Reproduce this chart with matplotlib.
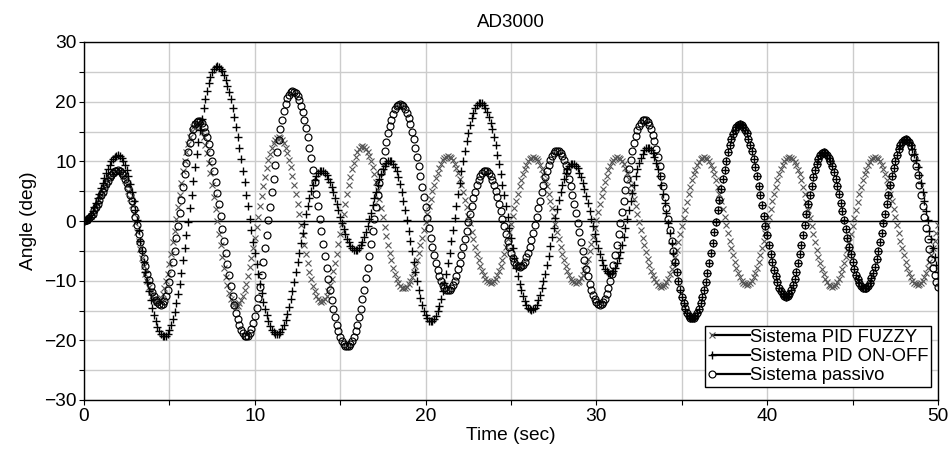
import numpy as np
import matplotlib
matplotlib.use("Agg")
import matplotlib.pyplot as plt
from matplotlib.lines import Line2D
from matplotlib.ticker import MultipleLocator
from matplotlib.legend_handler import HandlerLine2DCompound

plt.rcParams['font.family'] = ['Liberation Sans', 'DejaVu Sans']

title = "AD3000"
x_label = "Time (sec)"
y_label = "Angle (deg)"
series_labels = ["Sistema PID FUZZY", "Sistema PID ON-OFF", "Sistema passivo"]
time_step = 0.1  # seconds between samples

fuzzy = [
    0.0,
    0.1, 0.2, 0.5, 0.8, 1.2, 1.8, 2.3, 2.9, 3.6, 4.3, 4.9, 5.6, 6.2, 6.7, 7.3, 7.7, 8.0, 8.3, 8.4, 8.5,
    8.4, 8.1, 7.6, 6.9, 6.0, 5.0, 3.8, 2.6, 1.2, -0.3, -1.8, -3.3, -4.7, -6.2, -7.6, -8.8, -10.0, -11.0, -11.9, -12.6, -13.1, -13.4, -13.5,
    -13.4, -12.9, -12.3, -11.3, -10.1, -8.8, -7.2, -5.5, -3.6, -1.6, 0.4, 2.4, 4.4, 6.4, 8.3, 10.0, 11.6, 12.9, 14.1, 15.1, 15.7, 16.2, 16.3,
    16.2, 15.7, 15.0, 14.1, 12.8, 11.4, 9.8, 8.0, 6.1, 4.1, 2.0, 0.0, -2.1, -4.1, -6.0, -7.8, -9.4, -10.8, -12.1, -13.0, -13.7, -14.1, -14.3,
    -14.2, -13.8, -13.3, -12.5, -11.6, -10.5, -9.2, -7.7, -6.2, -4.5, -2.8, -1.0, 0.7, 2.5, 4.2, 5.9, 7.4, 8.9, 10.2, 11.3, 12.3, 13.0, 13.6, 13.9, 14.0,
    13.9, 13.6, 13.0, 12.3, 11.4, 10.3, 9.0, 7.6, 6.1, 4.5, 2.8, 1.1, -0.6, -2.3, -4.0, -5.6, -7.1, -8.5, -9.8, -10.9, -11.8, -12.5, -13.1, -13.4, -13.5,
    -13.4, -13.1, -12.5, -11.8, -10.8, -9.7, -8.4, -7.0, -5.5, -3.9, -2.2, -0.5, 1.2, 2.9, 4.5, 6.0, 7.4, 8.7, 9.8, 10.8, 11.5, 12.1, 12.4, 12.5,
    12.4, 12.1, 11.6, 10.9, 10.1, 9.0, 7.8, 6.6, 5.2, 3.7, 2.2, 0.6, -1.0, -2.5, -4.0, -5.4, -6.6, -7.8, -8.9, -9.7, -10.4, -10.9, -11.2, -11.3,
    -11.2, -11.0, -10.6, -10.0, -9.4, -8.5, -7.6, -6.5, -5.4, -4.1, -2.9, -1.5, -0.2, 1.1, 2.5, 3.7, 5.0, 6.1, 7.2, 8.1, 8.9, 9.6, 10.2, 10.6, 10.8, 10.9,
    10.8, 10.6, 10.2, 9.6, 8.9, 8.0, 7.0, 6.0, 4.8, 3.6, 2.3, 0.9, -0.4, -1.8, -3.1, -4.3, -5.5, -6.5, -7.5, -8.4, -9.1, -9.7, -10.1, -10.3, -10.4,
    -10.3, -10.1, -9.7, -9.1, -8.4, -7.6, -6.6, -5.5, -4.3, -3.1, -1.8, -0.5, 0.8, 2.1, 3.4, 4.6, 5.8, 6.9, 7.8, 8.7, 9.4, 10.0, 10.4, 10.6, 10.7,
    10.6, 10.4, 10.0, 9.4, 8.7, 7.9, 6.9, 5.8, 4.6, 3.4, 2.1, 0.8, -0.5, -1.8, -3.1, -4.3, -5.5, -6.6, -7.5, -8.4, -9.1, -9.7, -10.1, -10.3, -10.4,
    -10.3, -10.0, -9.6, -9.0, -8.2, -7.3, -6.3, -5.1, -3.9, -2.6, -1.2, 0.2, 1.5, 2.9, 4.2, 5.4, 6.6, 7.6, 8.5, 9.3, 9.9, 10.3, 10.6, 10.7,
    10.6, 10.4, 10.0, 9.5, 8.8, 8.0, 7.1, 6.0, 4.9, 3.7, 2.5, 1.2, -0.2, -1.5, -2.8, -4.0, -5.2, -6.3, -7.4, -8.3, -9.1, -9.8, -10.3, -10.7, -10.9, -11.0,
    -10.9, -10.7, -10.2, -9.7, -8.9, -8.1, -7.1, -6.0, -4.8, -3.5, -2.2, -0.8, 0.5, 1.9, 3.2, 4.5, 5.7, 6.8, 7.8, 8.6, 9.4, 9.9, 10.4, 10.6, 10.7,
    10.6, 10.4, 10.0, 9.4, 8.7, 7.8, 6.8, 5.7, 4.6, 3.3, 2.0, 0.7, -0.7, -2.0, -3.3, -4.6, -5.7, -6.8, -7.8, -8.7, -9.4, -10.0, -10.4, -10.6, -10.7,
    -10.6, -10.4, -10.0, -9.4, -8.7, -7.8, -6.8, -5.7, -4.6, -3.3, -2.0, -0.7, 0.7, 2.0, 3.3, 4.6, 5.7, 6.8, 7.8, 8.7, 9.4, 10.0, 10.4, 10.6, 10.7,
    10.6, 10.4, 9.9, 9.4, 8.6, 7.8, 6.8, 5.7, 4.5, 3.2, 1.9, 0.5, -0.8, -2.2, -3.5, -4.8, -6.0, -7.1, -8.1, -8.9, -9.7, -10.2, -10.7, -10.9, -11.0,
    -10.9, -10.7, -10.2, -9.7, -8.9, -8.1, -7.1, -6.0, -4.8, -3.5, -2.2, -0.8, 0.5, 1.9, 3.2, 4.5, 5.7, 6.8, 7.8, 8.6, 9.4, 9.9, 10.4, 10.6, 10.7,
    10.6, 10.4, 10.0, 9.4, 8.7, 7.8, 6.8, 5.7, 4.6, 3.3, 2.0, 0.7, -0.7, -2.0, -3.3, -4.6, -5.7, -6.8, -7.8, -8.7, -9.4, -10.0, -10.4, -10.6, -10.7,
    -10.6, -10.4, -10.0, -9.4, -8.7, -7.8, -6.8, -5.7, -4.6, -3.3, -2.0, -0.7,
]

on_off = [
    0.0,
    0.1, 0.3, 0.6, 1.0, 1.6, 2.3, 3.0, 3.8, 4.6, 5.5, 6.4, 7.2, 8.0, 8.7, 9.4, 10.0, 10.4, 10.7, 10.9, 11.0,
    10.9, 10.6, 10.1, 9.4, 8.5, 7.5, 6.2, 4.9, 3.4, 1.9, 0.2, -1.5, -3.3, -5.0, -6.8, -8.5, -10.2, -11.7, -13.2, -14.5, -15.8, -16.8, -17.7, -18.4, -18.9, -19.2, -19.3,
    -19.2, -18.9, -18.3, -17.5, -16.5, -15.2, -13.8, -12.3, -10.5, -8.7, -6.6, -4.6, -2.4, -0.1, 2.2, 4.4, 6.7, 9.0, 11.2, 13.2, 15.2, 17.1, 18.9, 20.4, 21.8, 23.1, 24.1, 24.9, 25.5, 25.8, 25.9,
    25.8, 25.5, 25.1, 24.5, 23.7, 22.7, 21.6, 20.4, 19.0, 17.5, 15.8, 14.1, 12.3, 10.4, 8.4, 6.5, 4.4, 2.5, 0.4, -1.5, -3.5, -5.4, -7.2, -8.9, -10.6, -12.1, -13.5, -14.7, -15.8, -16.8, -17.6, -18.2, -18.6, -18.9, -19.0,
    -18.9, -18.6, -18.1, -17.4, -16.6, -15.6, -14.4, -13.1, -11.7, -10.2, -8.6, -6.9, -5.3, -3.7, -2.0, -0.5, 1.1, 2.5, 3.8, 5.0, 6.0, 6.8, 7.5, 8.0, 8.3, 8.4,
    8.3, 8.1, 7.7, 7.1, 6.5, 5.7, 4.8, 3.8, 2.8, 1.8, 0.7, -0.3, -1.3, -2.2, -3.0, -3.6, -4.2, -4.6, -4.8, -4.9,
    -4.8, -4.5, -4.1, -3.5, -2.7, -1.8, -0.8, 0.3, 1.4, 2.6, 3.8, 4.9, 6.0, 7.0, 7.9, 8.7, 9.3, 9.7, 10.0, 10.1,
    10.0, 9.6, 9.1, 8.3, 7.3, 6.2, 4.8, 3.4, 1.8, 0.1, -1.6, -3.4, -5.1, -6.8, -8.5, -10.1, -11.5, -12.9, -14.0, -15.0, -15.8, -16.3, -16.7, -16.8,
    -16.7, -16.4, -15.9, -15.1, -14.2, -13.1, -11.8, -10.4, -8.8, -7.1, -5.3, -3.4, -1.5, 0.5, 2.5, 4.5, 6.4, 8.3, 10.1, 11.8, 13.4, 14.8, 16.1, 17.2, 18.1, 18.9, 19.4, 19.7, 19.8,
    19.7, 19.4, 19.0, 18.3, 17.5, 16.5, 15.4, 14.1, 12.7, 11.1, 9.5, 7.8, 6.1, 4.3, 2.5, 0.7, -1.2, -2.9, -4.6, -6.2, -7.8, -9.2, -10.5, -11.6, -12.6, -13.4, -14.1, -14.5, -14.8, -14.9,
    -14.8, -14.5, -14.0, -13.3, -12.4, -11.3, -10.1, -8.8, -7.3, -5.8, -4.2, -2.7, -1.1, 0.5, 2.0, 3.5, 4.8, 6.0, 7.1, 8.0, 8.7, 9.2, 9.5, 9.6,
    9.5, 9.2, 8.8, 8.1, 7.4, 6.4, 5.4, 4.2, 3.0, 1.7, 0.4, -0.9, -2.2, -3.4, -4.6, -5.6, -6.6, -7.3, -8.0, -8.4, -8.7, -8.8,
    -8.7, -8.4, -7.8, -7.1, -6.2, -5.2, -4.0, -2.6, -1.2, 0.3, 1.8, 3.3, 4.7, 6.1, 7.5, 8.7, 9.7, 10.6, 11.3, 11.9, 12.2, 12.3,
    12.2, 11.9, 11.4, 10.7, 9.8, 8.7, 7.5, 6.1, 4.6, 3.1, 1.4, -0.3, -2.0, -3.7, -5.4, -7.1, -8.6, -10.1, -11.5, -12.7, -13.8, -14.7, -15.4, -15.9, -16.2, -16.3,
    -16.2, -15.9, -15.4, -14.7, -13.8, -12.8, -11.6, -10.2, -8.7, -7.1, -5.4, -3.7, -1.9, -0.1, 1.8, 3.6, 5.3, 7.0, 8.6, 10.1, 11.5, 12.7, 13.7, 14.6, 15.3, 15.8, 16.1, 16.2,
    16.1, 15.8, 15.3, 14.7, 13.8, 12.8, 11.7, 10.4, 9.0, 7.5, 5.9, 4.3, 2.6, 0.9, -0.8, -2.4, -4.0, -5.5, -6.9, -8.2, -9.3, -10.3, -11.2, -11.8, -12.3, -12.6, -12.7,
    -12.6, -12.2, -11.6, -10.8, -9.7, -8.5, -7.1, -5.6, -4.0, -2.3, -0.6, 1.1, 2.8, 4.4, 5.9, 7.3, 8.5, 9.6, 10.4, 11.0, 11.4, 11.5,
    11.4, 11.1, 10.6, 10.0, 9.2, 8.2, 7.0, 5.8, 4.5, 3.0, 1.6, 0.1, -1.4, -2.8, -4.3, -5.6, -6.8, -8.0, -9.0, -9.8, -10.4, -10.9, -11.2, -11.3,
    -11.2, -10.9, -10.4, -9.6, -8.7, -7.7, -6.4, -5.1, -3.6, -2.0, -0.4, 1.2, 2.8, 4.4, 6.0, 7.5, 8.8, 10.1, 11.1, 12.0, 12.8, 13.3, 13.6, 13.7,
    13.6, 13.3, 12.8, 12.1, 11.3, 10.2, 9.0, 7.7, 6.3, 4.8, 3.3, 1.6, 0.1, -1.6, -3.1, -4.6, -6.0, -7.3, -8.5,
]

passive = [
    0.0,
    0.1, 0.2, 0.5, 0.8, 1.2, 1.8, 2.3, 2.9, 3.6, 4.3, 4.9, 5.6, 6.2, 6.7, 7.3, 7.7, 8.0, 8.3, 8.4, 8.5,
    8.4, 8.1, 7.7, 7.1, 6.4, 5.5, 4.4, 3.3, 2.0, 0.7, -0.6, -2.1, -3.5, -4.9, -6.2, -7.5, -8.8, -9.9, -10.9, -11.9, -12.6, -13.2, -13.6, -13.9, -14.0,
    -13.9, -13.4, -12.6, -11.5, -10.2, -8.7, -6.9, -5.0, -2.9, -0.8, 1.4, 3.6, 5.7, 7.8, 9.7, 11.5, 13.0, 14.3, 15.4, 16.2, 16.6, 16.8,
    16.7, 16.4, 15.8, 15.0, 14.0, 12.9, 11.5, 10.0, 8.4, 6.6, 4.7, 2.8, 0.8, -1.3, -3.3, -5.3, -7.2, -9.1, -10.9, -12.5, -14.0, -15.4, -16.5, -17.5, -18.3, -18.8, -19.2, -19.3,
    -19.2, -18.8, -18.1, -17.1, -15.9, -14.5, -12.9, -11.0, -9.0, -6.9, -4.6, -2.3, 0.1, 2.4, 4.8, 7.1, 9.4, 11.5, 13.5, 15.4, 17.0, 18.4, 19.6, 20.6, 21.2, 21.7, 21.8,
    21.7, 21.4, 20.9, 20.2, 19.3, 18.2, 17.0, 15.6, 14.0, 12.3, 10.5, 8.6, 6.6, 4.6, 2.5, 0.4, -1.7, -3.8, -5.8, -7.8, -9.7, -11.5, -13.2, -14.8, -16.1, -17.4, -18.5, -19.4, -20.1, -20.6, -20.9, -21.0,
    -20.9, -20.6, -20.1, -19.4, -18.4, -17.4, -16.1, -14.7, -13.1, -11.5, -9.6, -7.8, -5.8, -3.8, -1.7, 0.3, 2.4, 4.4, 6.4, 8.2, 10.0, 11.7, 13.3, 14.7, 16.0, 17.0, 17.9, 18.7, 19.2, 19.5, 19.6,
    19.5, 19.2, 18.7, 18.1, 17.2, 16.2, 15.0, 13.7, 12.3, 10.8, 9.2, 7.5, 5.7, 4.0, 2.3, 0.5, -1.2, -2.8, -4.3, -5.7, -7.0, -8.2, -9.2, -10.0, -10.7, -11.2, -11.5, -11.6,
    -11.5, -11.2, -10.7, -10.0, -9.2, -8.1, -7.0, -5.7, -4.4, -3.0, -1.6, -0.2, 1.2, 2.5, 3.8, 4.9, 6.0, 6.8, 7.5, 8.0, 8.3, 8.4,
    8.3, 8.0, 7.5, 6.9, 6.1, 5.1, 4.0, 2.8, 1.6, 0.4, -0.9, -2.1, -3.3, -4.4, -5.4, -6.2, -6.8, -7.3, -7.6, -7.7,
    -7.6, -7.3, -6.8, -6.1, -5.3, -4.3, -3.2, -2.0, -0.7, 0.7, 2.1, 3.4, 4.8, 6.1, 7.3, 8.4, 9.4, 10.2, 10.9, 11.4, 11.7, 11.8,
    11.7, 11.4, 10.9, 10.2, 9.4, 8.3, 7.1, 5.8, 4.4, 2.9, 1.3, -0.3, -1.9, -3.5, -5.1, -6.6, -8.0, -9.3, -10.5, -11.5, -12.4, -13.1, -13.6, -13.9, -14.0,
    -13.9, -13.6, -13.0, -12.2, -11.3, -10.1, -8.8, -7.3, -5.7, -4.0, -2.2, -0.4, 1.5, 3.4, 5.2, 7.0, 8.7, 10.3, 11.8, 13.1, 14.2, 15.2, 16.0, 16.5, 16.9, 17.0,
    16.9, 16.6, 16.1, 15.4, 14.4, 13.4, 12.1, 10.7, 9.2, 7.6, 5.8, 4.1, 2.2, 0.4, -1.5, -3.4, -5.1, -6.9, -8.5, -10.0, -11.4, -12.7, -13.7, -14.6, -15.4, -15.9, -16.2, -16.3,
    -16.2, -15.9, -15.4, -14.7, -13.8, -12.8, -11.6, -10.2, -8.7, -7.1, -5.4, -3.7, -1.9, -0.1, 1.8, 3.6, 5.3, 7.0, 8.6, 10.1, 11.5, 12.7, 13.7, 14.6, 15.3, 15.8, 16.1, 16.2,
    16.1, 15.8, 15.3, 14.7, 13.8, 12.8, 11.7, 10.4, 9.0, 7.5, 5.9, 4.3, 2.6, 0.9, -0.8, -2.4, -4.0, -5.5, -6.9, -8.2, -9.3, -10.3, -11.2, -11.8, -12.3, -12.6, -12.7,
    -12.6, -12.2, -11.6, -10.8, -9.7, -8.5, -7.1, -5.6, -4.0, -2.3, -0.6, 1.1, 2.8, 4.4, 5.9, 7.3, 8.5, 9.6, 10.4, 11.0, 11.4, 11.5,
    11.4, 11.1, 10.6, 10.0, 9.2, 8.2, 7.0, 5.8, 4.5, 3.0, 1.6, 0.1, -1.4, -2.8, -4.3, -5.6, -6.8, -8.0, -9.0, -9.8, -10.4, -10.9, -11.2, -11.3,
    -11.2, -10.9, -10.4, -9.6, -8.7, -7.7, -6.4, -5.1, -3.6, -2.0, -0.4, 1.2, 2.8, 4.4, 6.0, 7.5, 8.8, 10.1, 11.1, 12.0, 12.8, 13.3, 13.6, 13.7,
    13.6, 13.2, 12.5, 11.6, 10.5, 9.2, 7.7, 6.1, 4.4, 2.5, 0.7, -1.2, -3.0, -4.7, -6.3, -7.8, -9.1, -10.2, -11.1,
]

assert len(fuzzy) == 501, len(fuzzy)
assert len(on_off) == 501, len(on_off)
assert len(passive) == 501, len(passive)

x_ticks = [0, 10, 20, 30, 40, 50]
y_ticks = [-30, -20, -10, 0, 10, 20, 30]


class LeftMarkerHandler(HandlerLine2DCompound):
    def get_xdata(self, legend, xdescent, ydescent, width, height, fontsize):
        xdata = np.array([-xdescent + 0.1 * width, -xdescent + width])
        return xdata, np.array([-xdescent + 0.1 * width])


fig = plt.figure(figsize=(9.5, 4.49), dpi=100)
ax = fig.add_axes([84 / 950, 1 - 400 / 449, 854 / 950, 358 / 449])

def times(vals):
    return np.arange(len(vals)) * time_step

ax.plot(times(fuzzy), fuzzy, ls='none', marker='x', ms=4.4, mew=0.8,
        color='#555555', zorder=3)
ax.plot(times(on_off), on_off, ls='none', marker='+', ms=6.0, mew=1.0,
        color='black', zorder=3)
ax.plot(times(passive), passive, ls='none', marker='o', ms=5.0, mew=0.85,
        mfc='none', mec='black', zorder=3)

ax.axhline(0, color='black', lw=1.0, zorder=2)

ax.set_xlim(0, 50)
ax.set_ylim(-30, 30)
ax.set_xticks(x_ticks)
ax.set_yticks(y_ticks)
ax.xaxis.set_minor_locator(MultipleLocator(5))
ax.yaxis.set_minor_locator(MultipleLocator(5))
ax.grid(which='both', color='#cccccc', lw=1.0)
ax.set_axisbelow(True)
ax.tick_params(which='both', direction='out', length=3.5, width=0.8,
               labelsize=13.8, pad=2, colors='black')
for sp in ax.spines.values():
    sp.set_color('black')
    sp.set_linewidth(1.0)

ax.set_title(title, fontsize=13.5, pad=11)
ax.set_xlabel(x_label, fontsize=13.8, labelpad=2)
ax.set_ylabel(y_label, fontsize=13.8, labelpad=5)

handles = [
    Line2D([], [], color='black', lw=1.6, marker='x', ms=4.4, mew=0.8, mec='#555555'),
    Line2D([], [], color='black', lw=1.6, marker='+', ms=6.0, mew=1.0, mec='black'),
    Line2D([], [], color='black', lw=1.6, marker='o', ms=5.0, mew=0.85, mfc='white', mec='black'),
]
leg = ax.legend(handles, series_labels, loc='lower right',
                bbox_to_anchor=(0.992, 0.036), borderaxespad=0,
                fontsize=13.3, frameon=True, fancybox=False, framealpha=1,
                edgecolor='black', borderpad=0.15, labelspacing=0.12,
                handlelength=2.3, handletextpad=0.0,
                handler_map={Line2D: LeftMarkerHandler()})
leg.get_frame().set_linewidth(1.0)

fig.savefig('out.png', dpi=100)
